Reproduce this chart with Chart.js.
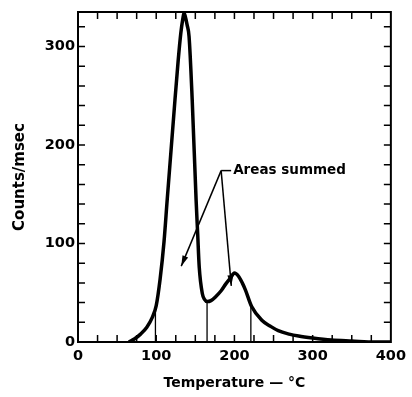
<!DOCTYPE html>
<html>
<head>
<meta charset="utf-8">
<script src="https://cdn.jsdelivr.net/npm/chart.js@4.4.0/dist/chart.umd.min.js"></script>
<style>
  html, body { margin: 0; padding: 0; background: #fff; }
  #wrap { width: 412px; height: 397px; }
</style>
</head>
<body>
<div id="wrap"><canvas id="grafico"></canvas></div>
<script>
// temperature (°C) and counts/msec
const temperatura = [65, 72, 80, 88, 95, 100, 105, 110, 114, 119, 124, 128, 131.5, 134, 135.5, 137, 139.5, 142, 146, 151, 153, 155, 159, 162, 165, 170, 176, 183, 189, 195, 200, 205, 210, 214, 222, 235, 246, 256, 270, 282, 300, 324, 350, 380, 400];
const cuentas = [0, 3, 8, 15, 25, 37, 64, 102, 144, 195, 246, 285, 314, 328, 334, 331, 322, 310, 246, 144, 110, 76, 49, 43, 41, 42, 46, 52, 59, 65, 70, 67, 60, 53, 36, 22, 16, 11.5, 8, 6, 4, 2, 1, 0, 0];

// vertical lines that split the areas
const limitesT = [99, 165, 221];
const limitesTop = [35, 41, 37];

const xLabels = [0, 100, 200, 300, 400];
const yLabels = [0, 100, 200, 300];

// annotation "Areas summed"
const notaTexto = 'Areas summed';
const notaVertice = [183, 174];
const notaFlechas = [[132, 77], [196, 57]];

const fuente = '"DejaVu Sans", Verdana, sans-serif';

const datasets = [
    {
        label: 'Counts',
        data: temperatura.map((t, i) => ({ x: t, y: cuentas[i] })),
        borderColor: '#000',
        borderWidth: 3.5,
        pointRadius: 0,
        cubicInterpolationMode: 'monotone',
        fill: false
    }
];

limitesT.forEach(function(t, i){
    datasets.push({
        label: 'limite' + i,
        data: [{ x: t, y: 0 }, { x: t, y: limitesTop[i] }],
        borderColor: '#000',
        borderWidth: 1.3,
        pointRadius: 0
    });
});

// box with inward ticks + annotation arrows
const marcoPlugin = {
    id: 'marco',
    afterDatasetsDraw(chart) {
        const ctx = chart.ctx;
        const a = chart.chartArea;
        const xs = chart.scales.x, ys = chart.scales.y;
        ctx.save();
        ctx.strokeStyle = '#000';
        ctx.lineWidth = 2;
        ctx.strokeRect(a.left, a.top, a.right - a.left, a.bottom - a.top);

        ctx.lineWidth = 1.5;
        ctx.beginPath();
        for (let v = 25; v < 400; v += 25) {
            const px = xs.getPixelForValue(v);
            ctx.moveTo(px, a.bottom); ctx.lineTo(px, a.bottom - 7);
            ctx.moveTo(px, a.top); ctx.lineTo(px, a.top + 7);
        }
        for (let v = 20; v < 335; v += 20) {
            const py = ys.getPixelForValue(v);
            ctx.moveTo(a.left, py); ctx.lineTo(a.left + 7, py);
            ctx.moveTo(a.right, py); ctx.lineTo(a.right - 7, py);
        }
        ctx.stroke();

        // annotation
        const vx = xs.getPixelForValue(notaVertice[0]);
        const vy = ys.getPixelForValue(notaVertice[1]);
        ctx.lineWidth = 1.5;
        notaFlechas.forEach(function(p){
            const tx = xs.getPixelForValue(p[0]);
            const ty = ys.getPixelForValue(p[1]);
            ctx.beginPath();
            ctx.moveTo(vx, vy); ctx.lineTo(tx, ty);
            ctx.stroke();
            const ang = Math.atan2(ty - vy, tx - vx);
            const L = 11, W = 0.28;
            ctx.beginPath();
            ctx.moveTo(tx, ty);
            ctx.lineTo(tx - L * Math.cos(ang - W), ty - L * Math.sin(ang - W));
            ctx.lineTo(tx - L * Math.cos(ang + W), ty - L * Math.sin(ang + W));
            ctx.closePath();
            ctx.fillStyle = '#000';
            ctx.fill();
        });
        ctx.beginPath();
        ctx.moveTo(vx, vy); ctx.lineTo(vx + 10, vy);
        ctx.stroke();
        ctx.font = 'bold 13.5px ' + fuente;
        ctx.fillStyle = '#000';
        ctx.textBaseline = 'middle';
        ctx.textAlign = 'left';
        ctx.fillText(notaTexto, vx + 12, vy);
        ctx.restore();
    }
};

new Chart(document.getElementById('grafico'), {
    type: 'line',
    data: { datasets: datasets },
    plugins: [marcoPlugin],
    options: {
        responsive: true,
        maintainAspectRatio: false,
        animation: false,
        layout: { padding: { left: 0, right: 17, top: 12, bottom: 0 } },
        plugins: {
            legend: { display: false },
            tooltip: { enabled: false }
        },
        scales: {
            x: {
                type: 'linear',
                min: 0,
                max: 400,
                grid: { display: false, drawTicks: false },
                border: { display: false },
                afterBuildTicks: s => { s.ticks = xLabels.map(v => ({ value: v })); },
                afterFit: s => { s.height = 55; },
                ticks: {
                    color: '#000',
                    padding: 6,
                    maxRotation: 0,
                    font: { family: fuente, size: 14.5, weight: 'bold' }
                },
                title: {
                    display: true,
                    text: 'Temperature — °C',
                    color: '#000',
                    padding: { top: 4, bottom: 5 },
                    font: { family: fuente, size: 14, weight: 'bold' }
                }
            },
            y: {
                min: 0,
                max: 335,
                grid: { display: false, drawTicks: false },
                border: { display: false },
                afterBuildTicks: s => { s.ticks = yLabels.map(v => ({ value: v })); },
                afterFit: s => { s.width = 78; },
                ticks: {
                    color: '#000',
                    padding: 3,
                    font: { family: fuente, size: 14.5, weight: 'bold' }
                },
                title: {
                    display: true,
                    text: 'Counts/msec',
                    color: '#000',
                    padding: { top: 11, bottom: 0 },
                    font: { family: fuente, size: 15, weight: 'bold' }
                }
            }
        }
    }
});
</script>
</body>
</html>
